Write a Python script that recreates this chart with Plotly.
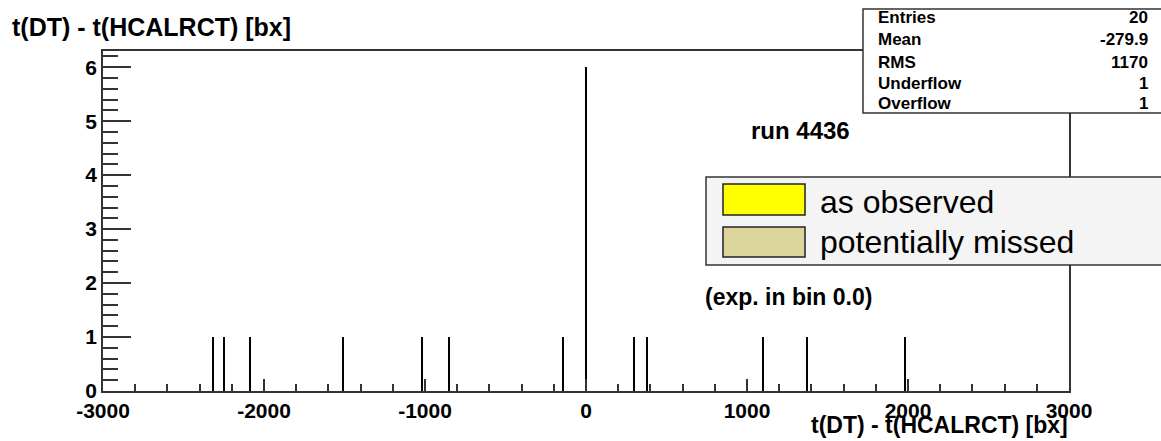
import plotly.graph_objects as go

# ---- data ----
bin_centers = [-2316, -2248, -2086, -1508, -1017, -853, -140, 0, 297, 380, 1102, 1371, 1980]
counts = [1, 1, 1, 1, 1, 1, 1, 6, 1, 1, 1, 1, 1]
x_ticks = [-3000, -2000, -1000, 0, 1000, 2000, 3000]
y_ticks = [0, 1, 2, 3, 4, 5, 6]
stats_labels = ["Entries", "Mean", "RMS", "Underflow", "Overflow"]
stats_values = ["20", "-279.9", "1170", "1", "1"]
legend_labels = ["as observed", "potentially missed"]
legend_colors = ["#ffff00", "#dcd69c"]
title_text = "t(DT) - t(HCALRCT) [bx]"
run_text = "run 4436"
exp_text = "(exp. in bin 0.0)"

W, H = 1161, 441
L, R, T, B = 103, 1069, 51, 391


def px(x):
    return (x - L) / (R - L)


def py(y):
    return (B - y) / (B - T)


FONT = "Liberation Sans, Arial, sans-serif"

fig = go.Figure()
fig.add_trace(go.Bar(
    x=bin_centers, y=counts, width=6,
    marker=dict(color="black", line=dict(width=0)),
    showlegend=False, hoverinfo="x+y",
))

shapes = []
annotations = []

# title
annotations.append(dict(xref="paper", yref="paper", x=px(10), y=py(27), xanchor="left", yanchor="middle",
                        text=title_text, showarrow=False,
                        font=dict(family=FONT, size=25, color="black", weight="bold")))
# x-axis title
annotations.append(dict(xref="paper", yref="paper", x=px(1070), y=py(425), xanchor="right", yanchor="middle",
                        text=title_text, showarrow=False,
                        font=dict(family=FONT, size=23, color="black", weight="bold")))

# stats box
shapes.append(dict(type="rect", xref="paper", yref="paper", x0=px(863), x1=px(1175), y0=py(113), y1=py(9),
                   fillcolor="white", line=dict(color="#333333", width=1.5), layer="above"))
row_y = [18, 40, 62, 83, 103]
for lab, val, yy in zip(stats_labels, stats_values, row_y):
    annotations.append(dict(xref="paper", yref="paper", x=px(876), y=py(yy), xanchor="left", yanchor="middle",
                            text=lab, showarrow=False,
                            font=dict(family=FONT, size=17, color="black", weight="bold")))
    annotations.append(dict(xref="paper", yref="paper", x=px(1150), y=py(yy), xanchor="right", yanchor="middle",
                            text=val, showarrow=False,
                            font=dict(family=FONT, size=17, color="black", weight="bold")))

# legend box
shapes.append(dict(type="rect", xref="paper", yref="paper", x0=px(706), x1=px(1175), y0=py(265), y1=py(177),
                   fillcolor="#f4f4f4", line=dict(color="#333333", width=1.5), layer="above"))
sw_y = [(184, 215), (227, 257)]
txt_y = [202, 242]
for lab, col, (ya, yb), ty in zip(legend_labels, legend_colors, sw_y, txt_y):
    shapes.append(dict(type="rect", xref="paper", yref="paper", x0=px(723), x1=px(805), y0=py(yb), y1=py(ya),
                       fillcolor=col, line=dict(color="#222222", width=1.5), layer="above"))
    annotations.append(dict(xref="paper", yref="paper", x=px(818), y=py(ty), xanchor="left", yanchor="middle",
                            text=lab, showarrow=False,
                            font=dict(family=FONT, size=32, color="black")))

annotations.append(dict(xref="paper", yref="paper", x=px(749), y=py(130), xanchor="left", yanchor="middle",
                        text=run_text, showarrow=False,
                        font=dict(family=FONT, size=24, color="black", weight="bold")))
annotations.append(dict(xref="paper", yref="paper", x=px(703), y=py(297), xanchor="left", yanchor="middle",
                        text=exp_text, showarrow=False,
                        font=dict(family=FONT, size=23, color="black", weight="bold")))

fig.update_layout(
    width=W, height=H,
    margin=dict(l=L, r=W - R, t=T, b=H - B, pad=0),
    paper_bgcolor="white", plot_bgcolor="white",
    bargap=0,
    shapes=shapes, annotations=annotations,
    xaxis=dict(range=[-3000, 3000], tickvals=x_ticks, ticktext=[str(v) for v in x_ticks],
               ticks="inside", ticklen=12, tickwidth=1.5, tickcolor="#333333",
               minor=dict(dtick=200, tick0=0, ticks="inside", ticklen=7, tickwidth=1.5, tickcolor="#333333"),
               showline=True, linecolor="#333333", linewidth=1.5, mirror=True,
               showgrid=False, zeroline=False,
               tickfont=dict(family=FONT, size=21, color="black", weight="bold")),
    yaxis=dict(range=[0, 6.3], tickvals=y_ticks, ticktext=[str(v) for v in y_ticks],
               ticks="inside", ticklen=28, tickwidth=1.5, tickcolor="#333333",
               minor=dict(dtick=0.2, tick0=0, ticks="inside", ticklen=15, tickwidth=1.5, tickcolor="#333333"),
               showline=True, linecolor="#333333", linewidth=1.5, mirror=True,
               showgrid=False, zeroline=False,
               tickfont=dict(family=FONT, size=21, color="black", weight="bold")),
)

fig.write_html("out.html", config={"displayModeBar": False},
               post_script="document.body.style.margin='0';document.body.style.overflow='hidden';")
